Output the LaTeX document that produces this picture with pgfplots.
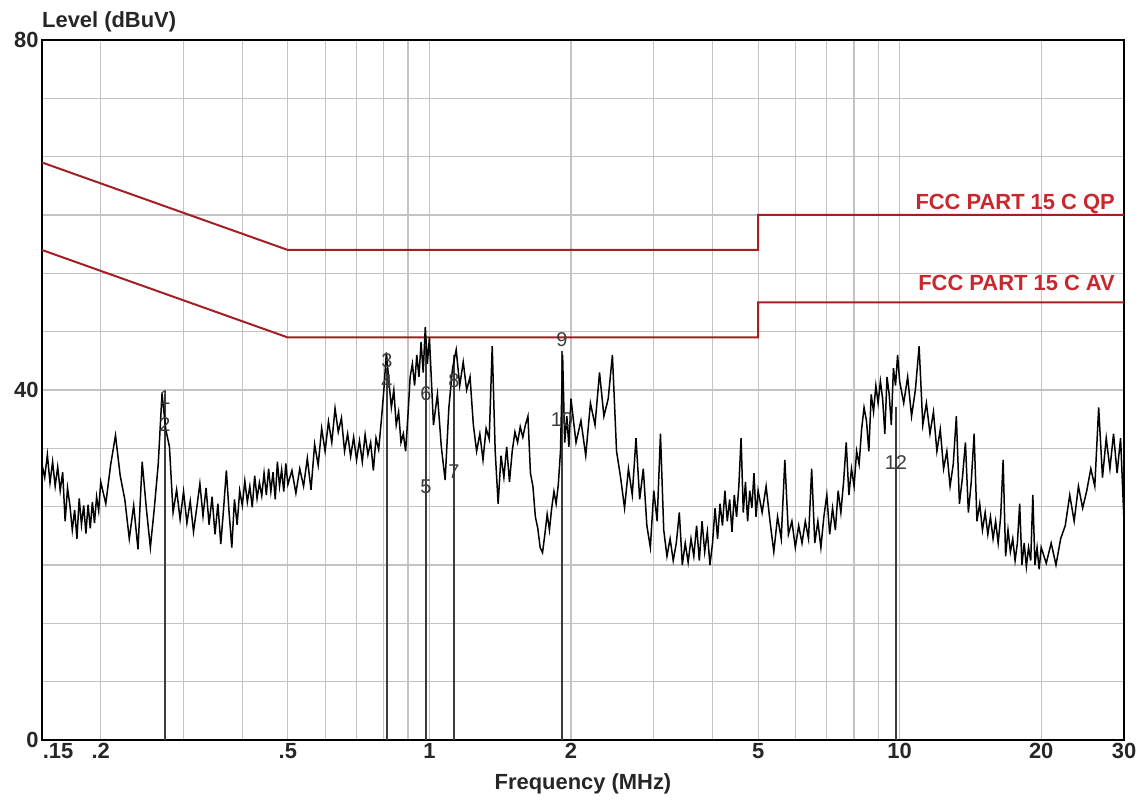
\documentclass[border=0pt]{standalone}
\usepackage{fontspec}
\setmainfont{Liberation Sans}
\usepackage{pgfplots}
\pgfplotsset{compat=1.18}
\definecolor{limred}{RGB}{165,30,35}
\definecolor{labred}{RGB}{200,40,45}
\definecolor{gridgray}{RGB}{195,195,195}
\definecolor{mkgray}{RGB}{60,60,60}
\begin{document}
\begin{tikzpicture}
\begin{axis}[
  xmode=log, scale only axis, width=1082bp, height=700bp,
  xmin=0.15, xmax=30, ymin=0, ymax=80,
  xtick={0.15,0.2,0.5,1,2,5,10,20,30},
  xticklabels={\hspace{32bp}.15,.2,.5,1,2,5,10,20,30\hspace{14bp}},
  minor xtick={0.3,0.4,0.6,0.7,0.8,0.9,3,4,6,7,8,9},
  ytick={0,40,80}, yticklabels={0,40,80},
  minor ytick={6.6667,13.3333,20,26.6667,33.3333,46.6667,53.3333,60,66.6667,73.3333},
  grid=both,
  major grid style={gridgray, line width=1.2bp},
  minor grid style={gridgray, line width=1.2bp},
  major tick length=0pt, minor tick length=0pt,
  axis line style={black, line width=1.8bp},
  ticklabel style={font=\bfseries\fontsize{22}{24}\selectfont, text=black!85},
  /pgf/number format/assume math mode=true,
  clip=false,
]
\coordinate (sw) at (rel axis cs:0,0);
\coordinate (ne) at (rel axis cs:1,1);
% limit lines
\addplot[limred, line width=2bp] coordinates {(0.15,66)(0.5,56)(5,56)(5,60)(30,60)};
\addplot[limred, line width=2bp] coordinates {(0.15,56)(0.5,46)(5,46)(5,50)(30,50)};
% marker lines
\addplot[ycomb, mkgray, line width=1.4bp, no marks] coordinates {(0.274,39.5)(0.812,42.5)(0.983,45)(1.128,44)(1.914,44.5)(9.82,38)};
% measured trace
\addplot[black, line width=1.5bp, no marks] coordinates {
(0.150,31.5)(0.152,30.0)(0.154,32.6)(0.156,29.4)(0.158,31.8)(0.160,29.0)(0.162,31.2)(0.164,28.5)(0.166,30.6)(0.168,25.0)
(0.170,28.8)(0.172,26.8)(0.174,24.0)(0.176,26.3)(0.178,23.0)(0.180,27.6)(0.182,24.6)(0.184,26.8)(0.186,23.6)(0.188,26.9)
(0.190,24.2)(0.192,27.2)(0.194,24.8)(0.196,27.8)(0.198,26.2)(0.200,29.5)
(0.205,27.0)(0.210,31.5)(0.215,34.8)(0.220,30.2)(0.225,27.5)(0.230,23.0)(0.235,26.8)(0.240,21.8)(0.245,31.8)(0.250,26.5)
(0.255,22.0)(0.260,26.5)(0.265,31.5)(0.270,39.6)(0.275,35.5)(0.280,33.5)(0.285,26.0)(0.290,28.6)(0.295,25.2)(0.300,28.4)
(0.305,24.8)(0.310,27.3)(0.315,23.8)(0.320,26.5)(0.325,29.3)(0.330,25.6)(0.335,28.8)(0.340,24.6)(0.345,27.8)(0.350,23.5)
(0.355,27.0)(0.360,22.4)(0.365,26.4)(0.370,30.8)(0.375,26.0)(0.380,22.0)(0.385,27.5)(0.390,24.6)(0.395,28.5)(0.400,26.8)
(0.405,29.6)(0.410,27.2)(0.415,29.0)(0.420,26.6)(0.425,30.2)(0.430,27.6)(0.435,29.4)(0.440,27.9)(0.445,30.5)(0.450,28.0)
(0.455,31.0)(0.460,28.4)(0.465,30.6)(0.470,27.5)(0.475,31.8)(0.480,29.0)(0.485,30.9)(0.490,28.4)(0.495,31.6)(0.500,29.2)
(0.51,30.8)(0.52,28.2)(0.53,31.0)(0.54,29.0)(0.55,32.2)(0.56,28.6)(0.57,33.8)(0.58,31.4)(0.59,35.6)(0.60,33.0)
(0.61,36.4)(0.62,34.0)(0.63,37.9)(0.64,35.2)(0.65,36.8)(0.66,33.0)(0.67,35.0)(0.68,32.4)(0.69,34.6)(0.70,32.0)
(0.71,34.2)(0.72,31.8)(0.73,34.9)(0.74,32.6)(0.75,34.0)(0.76,30.8)(0.77,34.5)(0.78,33.2)(0.79,36.4)(0.80,40.0)
(0.81,44.3)(0.82,41.0)(0.83,38.0)(0.84,40.0)(0.85,36.0)(0.86,37.5)(0.87,34.0)(0.88,35.0)(0.89,33.0)(0.90,37.0)
(0.91,41.5)(0.92,43.0)(0.93,40.5)(0.94,44.0)(0.95,41.5)(0.96,45.5)(0.97,42.0)(0.98,47.2)(0.99,43.0)(1.00,46.0)
(1.02,36.0)(1.04,39.5)(1.06,33.5)(1.08,29.7)(1.10,38.0)(1.12,42.5)(1.14,44.6)(1.16,40.5)(1.18,43.2)(1.20,40.0)
(1.22,41.5)(1.24,36.0)(1.26,33.0)(1.28,35.0)(1.30,32.0)(1.32,35.6)(1.34,34.4)(1.36,45.0)(1.38,33.0)(1.40,27.0)
(1.42,32.5)(1.44,30.0)(1.46,33.5)(1.48,29.5)(1.50,33.0)(1.52,35.2)(1.54,34.0)(1.56,35.8)(1.58,34.6)(1.60,36.0)
(1.62,37.0)(1.64,30.5)(1.66,29.0)(1.68,25.5)(1.70,24.2)(1.72,22.0)(1.74,21.4)(1.76,23.5)(1.78,25.8)(1.80,24.0)
(1.82,26.5)(1.84,28.4)(1.86,27.0)(1.88,29.2)(1.90,33.0)(1.92,44.0)(1.94,34.0)(1.96,37.0)(1.98,33.5)(2.00,39.0)
(2.05,34.0)(2.10,36.5)(2.15,32.5)(2.20,38.5)(2.25,36.0)(2.30,42.0)(2.35,37.0)(2.40,39.0)(2.45,44.0)(2.50,33.0)
(2.55,30.0)(2.60,26.5)(2.65,31.0)(2.70,28.0)(2.75,34.5)(2.80,27.5)(2.85,31.0)(2.90,24.5)(2.95,22.0)(3.00,28.5)
(3.05,25.0)(3.10,35.0)(3.15,24.0)(3.20,21.0)(3.25,23.0)(3.30,20.5)(3.35,22.5)(3.40,26.0)(3.45,20.0)(3.50,22.5)
(3.55,20.3)(3.60,23.0)(3.65,21.0)(3.70,24.5)(3.75,20.5)(3.80,25.0)(3.85,21.5)(3.90,23.8)(3.95,20.0)(4.00,22.5)
(4.05,26.5)(4.10,23.0)(4.15,27.0)(4.20,24.5)(4.25,28.5)(4.30,25.0)(4.35,27.5)(4.40,23.8)(4.45,28.0)(4.50,25.5)
(4.55,29.0)(4.60,34.5)(4.65,26.0)(4.70,29.5)(4.75,25.0)(4.80,28.5)(4.85,26.5)(4.90,30.5)(4.95,25.5)(5.00,28.5)
(5.1,26.0)(5.2,29.0)(5.3,25.0)(5.4,21.5)(5.5,25.5)(5.6,23.0)(5.7,32.0)(5.8,23.5)(5.9,25.0)(6.0,22.0)
(6.1,24.5)(6.2,22.5)(6.3,25.0)(6.4,23.0)(6.5,31.0)(6.6,22.5)(6.7,25.0)(6.8,22.0)(6.9,25.5)(7.0,28.0)
(7.1,23.5)(7.2,26.5)(7.3,24.0)(7.4,28.5)(7.5,26.0)(7.6,29.5)(7.7,34.0)(7.8,28.0)(7.9,31.0)(8.0,29.0)
(8.1,33.0)(8.2,31.5)(8.3,35.5)(8.4,38.0)(8.5,36.5)(8.6,33.0)(8.7,39.5)(8.8,37.5)(8.9,40.5)(9.0,38.5)
(9.1,41.0)(9.2,39.0)(9.3,35.0)(9.4,41.5)(9.5,39.5)(9.6,36.0)(9.7,42.5)(9.8,40.5)(9.9,44.0)(10.0,41.0)
(10.2,38.5)(10.4,41.5)(10.6,37.0)(10.8,40.0)(11.0,45.0)(11.2,36.0)(11.4,38.5)(11.6,35.0)(11.8,37.5)(12.0,33.0)
(12.2,35.5)(12.4,31.0)(12.6,33.0)(12.8,29.0)(13.0,31.5)(13.2,37.0)(13.4,27.0)(13.6,30.0)(13.8,34.0)(14.0,26.0)
(14.2,29.5)(14.4,35.0)(14.6,25.0)(14.8,27.0)(15.0,24.0)(15.2,26.0)(15.4,23.5)(15.6,25.5)(15.8,23.0)(16.0,25.0)
(16.2,22.5)(16.4,25.5)(16.6,32.0)(16.8,21.0)(17.0,24.0)(17.2,21.5)(17.4,23.0)(17.6,20.5)(17.8,22.5)(18.0,27.0)
(18.2,20.0)(18.4,22.5)(18.6,19.8)(18.8,22.0)(19.0,20.5)(19.2,28.0)(19.4,20.0)(19.6,22.0)(19.8,19.5)(20.0,22.0)
(20.5,20.2)(21.0,22.5)(21.5,20.0)(22.0,23.0)(22.5,24.5)(23.0,28.0)(23.5,25.0)(24.0,29.0)(24.5,26.5)(25.0,28.5)
(25.5,31.0)(26.0,29.0)(26.5,38.0)(27.0,30.0)(27.5,34.5)(28.0,31.0)(28.5,35.0)(29.0,30.5)(29.5,34.5)(30.0,25.0)
};
% limit labels
\node[anchor=base east, inner sep=0pt, text=labred, font=\bfseries\fontsize{22}{24}\selectfont] at (axis cs:30,60) [xshift=-9bp, yshift=5bp] {FCC PART 15 C QP};
\node[anchor=base east, inner sep=0pt, text=labred, font=\bfseries\fontsize{22}{24}\selectfont] at (axis cs:30,50) [xshift=-9bp, yshift=12bp] {FCC PART 15 C AV};
% marker labels
\begin{scope}[every node/.style={inner sep=0pt, text=mkgray, font=\fontsize{20}{22}\selectfont}]
\node at (axis cs:0.274,39.1) {1};
\node at (axis cs:0.274,36.1) {2};
\node at (axis cs:0.812,43.4) {3};
\node at (axis cs:0.812,40.9) {4};
\node at (axis cs:0.983,28.9) {5};
\node at (axis cs:0.983,39.6) {6};
\node at (axis cs:1.128,30.7) {7};
\node at (axis cs:1.128,41.1) {8};
\node at (axis cs:1.914,45.7) {9};
\node at (axis cs:1.914,36.6) {10};
\node at (axis cs:9.82,31.7) {12};
\end{scope}
% axis titles
\node[anchor=base west, inner sep=0pt, font=\bfseries\fontsize{22}{24}\selectfont, text=black!85] at (rel axis cs:0,1) [yshift=12bp] {Level (dBuV)};
\node[anchor=base, inner sep=0pt, font=\bfseries\fontsize{22}{24}\selectfont, text=black!85] at (rel axis cs:0.5,0) [yshift=-50bp] {Frequency (MHz)};
\end{axis}
\pgfresetboundingbox
\path[use as bounding box] ([shift={(-42bp,-60bp)}]sw) rectangle ([shift={(19bp,40bp)}]ne);
\end{tikzpicture}
\end{document}
